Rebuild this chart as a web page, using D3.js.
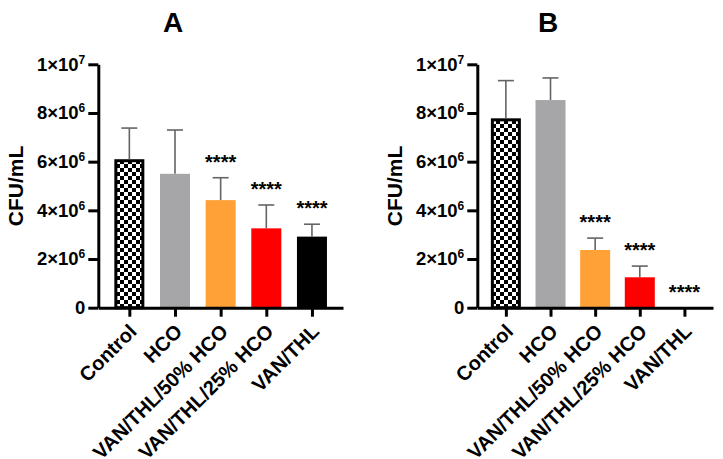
<!DOCTYPE html>
<html>
<head>
<meta charset="utf-8">
<script src="https://cdn.jsdelivr.net/npm/d3@7"></script>
<style>
body{margin:0;background:#fff}
text{font-family:"Liberation Sans",Arial,sans-serif;font-weight:bold;fill:#000}
</style>
</head>
<body>
<div id="chart"></div>
<script>
// data
const categories=["Control","HCO","VAN/THL/50% HCO","VAN/THL/25% HCO","VAN/THL"]
const yTicks=[0,2e6,4e6,6e6,8e6,1e7]

const meanA=[6.1e6,5.5e6,4.42e6,3.26e6,2.92e6]
const sdA=[1.28e6,1.8e6,0.92e6,0.96e6,0.51e6]
const starsA=["","","****","****","****"]

const meanB=[7.78e6,8.53e6,2.37e6,1.25e6,0]
const sdB=[1.55e6,0.91e6,0.49e6,0.46e6,0]
const starsB=["","","****","****","****"]

const fills=["url(#checker)","#a6a6a8","#ffa136","#ff0000","#000000"]

const width=723
const height=459

const svg=d3.select("#chart")
.append("svg")
.attr("width",width)
.attr("height",height)

// checkerboard for Control bar
const pat=svg.append("defs")
.append("pattern")
.attr("id","checker")
.attr("patternUnits","userSpaceOnUse")
.attr("width",8)
.attr("height",8)
pat.append("rect").attr("width",8).attr("height",8).attr("fill","#fff")
pat.append("rect").attr("width",4).attr("height",4).attr("fill","#000")
pat.append("rect").attr("x",4).attr("y",4).attr("width",4).attr("height",4).attr("fill","#000")

const y=d3.scaleLinear()
.domain([0,1e7])
.range([307.7,64.3])

function tickLabel(sel,v){
if(v===0){sel.text("0");return}
const e=Math.floor(Math.log10(v))
const m=Math.round(v/Math.pow(10,e))
sel.text(null)
sel.append("tspan").text(m+"×10")
sel.append("tspan").attr("font-size","12px").attr("dy","-7").text(e)
}

function drawPanel(cfg,means,sds,stars){

const g=svg.append("g")

const x=d3.scalePoint()
.domain(categories)
.range([cfg.x0,cfg.x1])
.padding(cfg.pad)

const barW=30

// bars
g.selectAll("rect.bar")
.data(categories)
.enter()
.append("rect")
.attr("class","bar")
.attr("x",(d,i)=>i===0?x(d)-barW/2+1.5:x(d)-barW/2)
.attr("width",(d,i)=>i===0?barW-3:barW)
.attr("y",(d,i)=>y(means[i])+(i===0?1.5:0))
.attr("height",(d,i)=>Math.max(0,y(0)-y(means[i])-(i===0?1.5:0)))
.attr("fill",(d,i)=>fills[i])
.attr("stroke",(d,i)=>i===0?"#000":"none")
.attr("stroke-width",3)

// error bars (upper only)
const err=g.selectAll("g.err")
.data(categories.filter((d,i)=>sds[i]>0))
.enter()
.append("g")
.attr("class","err")
.attr("stroke","#646464")
.attr("stroke-width",1.6)

err.append("line")
.attr("x1",d=>x(d))
.attr("x2",d=>x(d))
.attr("y1",d=>y(means[categories.indexOf(d)]))
.attr("y2",d=>{const i=categories.indexOf(d);return y(means[i]+sds[i])})

err.append("line")
.attr("x1",d=>x(d)-8)
.attr("x2",d=>x(d)+8)
.attr("y1",d=>{const i=categories.indexOf(d);return y(means[i]+sds[i])})
.attr("y2",d=>{const i=categories.indexOf(d);return y(means[i]+sds[i])})

// significance stars
g.selectAll("text.star")
.data(categories)
.enter()
.append("text")
.attr("class","star")
.attr("x",d=>x(d))
.attr("y",(d,i)=>y(means[i]+sds[i])-9)
.attr("text-anchor","middle")
.attr("font-size","20px")
.text((d,i)=>stars[i])

// y axis
const yAxis=g.append("g")
.attr("transform",`translate(${cfg.x0},0)`)
.call(d3.axisLeft(y).tickValues(yTicks).tickSize(10).tickSizeOuter(0).tickPadding(3))
yAxis.select(".domain").attr("stroke-width",3)
yAxis.selectAll(".tick line").attr("stroke-width",3)
yAxis.selectAll(".tick text")
.attr("font-size","18.5px")
.attr("font-family","Liberation Sans, Arial, sans-serif")
.attr("font-weight","bold")
.each(function(v){tickLabel(d3.select(this),v)})

// x axis
const xAxis=g.append("g")
.attr("transform",`translate(0,${y(0)})`)
.call(d3.axisBottom(x).tickSize(9).tickSizeOuter(0))
xAxis.select(".domain").attr("stroke-width",3)
xAxis.selectAll(".tick line").attr("stroke-width",3)
xAxis.selectAll(".tick text")
.attr("font-size","20px")
.attr("font-family","Liberation Sans, Arial, sans-serif")
.attr("font-weight","bold")
.attr("text-anchor","end")
.attr("y",0)
.attr("dy",0)
.attr("transform","translate(8,25) rotate(-45)")

// title
g.append("text")
.attr("x",cfg.titleX)
.attr("y",32)
.attr("text-anchor","middle")
.attr("font-size","28px")
.text(cfg.title)

// y label
g.append("text")
.attr("transform",`translate(${cfg.labelX},${(y(0)+y(1e7))/2}) rotate(-90)`)
.attr("text-anchor","middle")
.attr("font-size","21px")
.text("CFU/mL")

}

drawPanel({x0:98.3,x1:343,pad:0.68,titleX:173,labelX:23,title:"A"},meanA,sdA,starsA)
drawPanel({x0:477.3,x1:713,pad:0.64,titleX:548,labelX:402,title:"B"},meanB,sdB,starsB)
</script>
</body>
</html>
